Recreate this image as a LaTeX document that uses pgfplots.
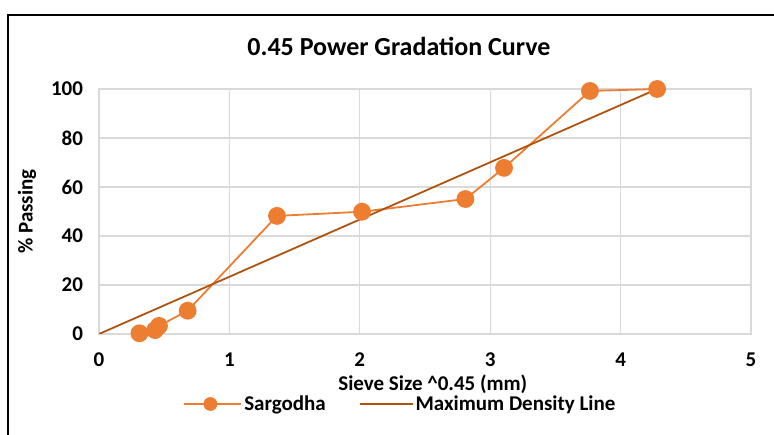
\documentclass[border=0pt]{standalone}
\usepackage{pgfplots}
\pgfplotsset{compat=1.18}
\usepackage{fontspec}
\setmainfont{Carlito}
\definecolor{sarg}{HTML}{ED7D31}
\definecolor{mdl}{HTML}{B0530F}
\definecolor{gridc}{HTML}{D9D9D9}
\pgfplotsset{
  sarglegend/.style={legend image code/.code={\path (0bp,0bp) -- (57bp,0bp);\draw[#1, mark repeat=2, mark phase=2, mark size=6bp] plot coordinates {(0bp,0bp) (26bp,0bp) (52bp,0bp)};}},
  mdllegend/.style={legend image code/.code={\path (0bp,0bp) -- (53bp,0bp);\draw[#1] (0bp,0bp) -- (48bp,0bp);}},
}
\begin{document}
\begin{tikzpicture}
\path[use as bounding box] (0bp,0bp) rectangle (774bp,435bp);
\draw[line width=1.8bp,black] (8bp,-10bp) -- (8bp,420bp) -- (790bp,420bp);
\begin{axis}[
  at={(99bp,101bp)}, anchor=south west,
  scale only axis, width=652bp, height=245bp,
  xmin=0, xmax=5, ymin=0, ymax=100,
  xtick={0,1,2,3,4,5}, ytick={0,20,40,60,80,100},
  major tick length=0pt,
  grid=major,
  major grid style={gridc, line width=1.3bp},
  axis line style={gridc, line width=1.3bp},
  tick label style={font=\fontsize{21bp}{25bp}\selectfont\bfseries},
  /pgf/number format/assume math mode=true,
  yticklabel style={xshift=-12.5bp},
  xticklabel style={yshift=-15bp},
  title={0.45 Power Gradation Curve},
  title style={font=\fontsize{26bp}{30bp}\selectfont\bfseries, at={(0.46,1)}, anchor=base, yshift=28bp},
  xlabel={Sieve Size \textasciicircum0.45 (mm)},
  xlabel style={font=\fontsize{21bp}{25bp}\selectfont\bfseries, at={(axis description cs:0.512,0)}, anchor=base, yshift=-56bp},
  ylabel={\% Passing},
  ylabel style={font=\fontsize{21bp}{25bp}\selectfont\bfseries, at={(axis description cs:-0.1104,0.5)}, anchor=center, rotate=0},
  legend columns=2,
  legend style={draw=none, fill=none, at={(0.4624,-0.2857)}, anchor=center,
    font=\fontsize{21bp}{25bp}\selectfont\bfseries,
    /tikz/every even column/.append style={column sep=31bp}},
  legend cell align=left,
]
\addplot[sarg, line width=1.8bp, mark=*, mark size=8bp, mark options={fill=sarg, draw=sarg}, sarglegend]
coordinates {
(0.31,0.3) (0.43,1.6) (0.46,3.3) (0.68,9.5) (1.365,48.2) (2.017,49.9) (2.81,55.1) (3.106,67.8) (3.765,99.2) (4.28,100)
};
\addlegendentry{Sargodha}
\addplot[mdl, line width=1.8bp, mdllegend]
coordinates {(0,0) (4.28,100)};
\addlegendentry{Maximum Density Line}
\end{axis}
\end{tikzpicture}
\end{document}
